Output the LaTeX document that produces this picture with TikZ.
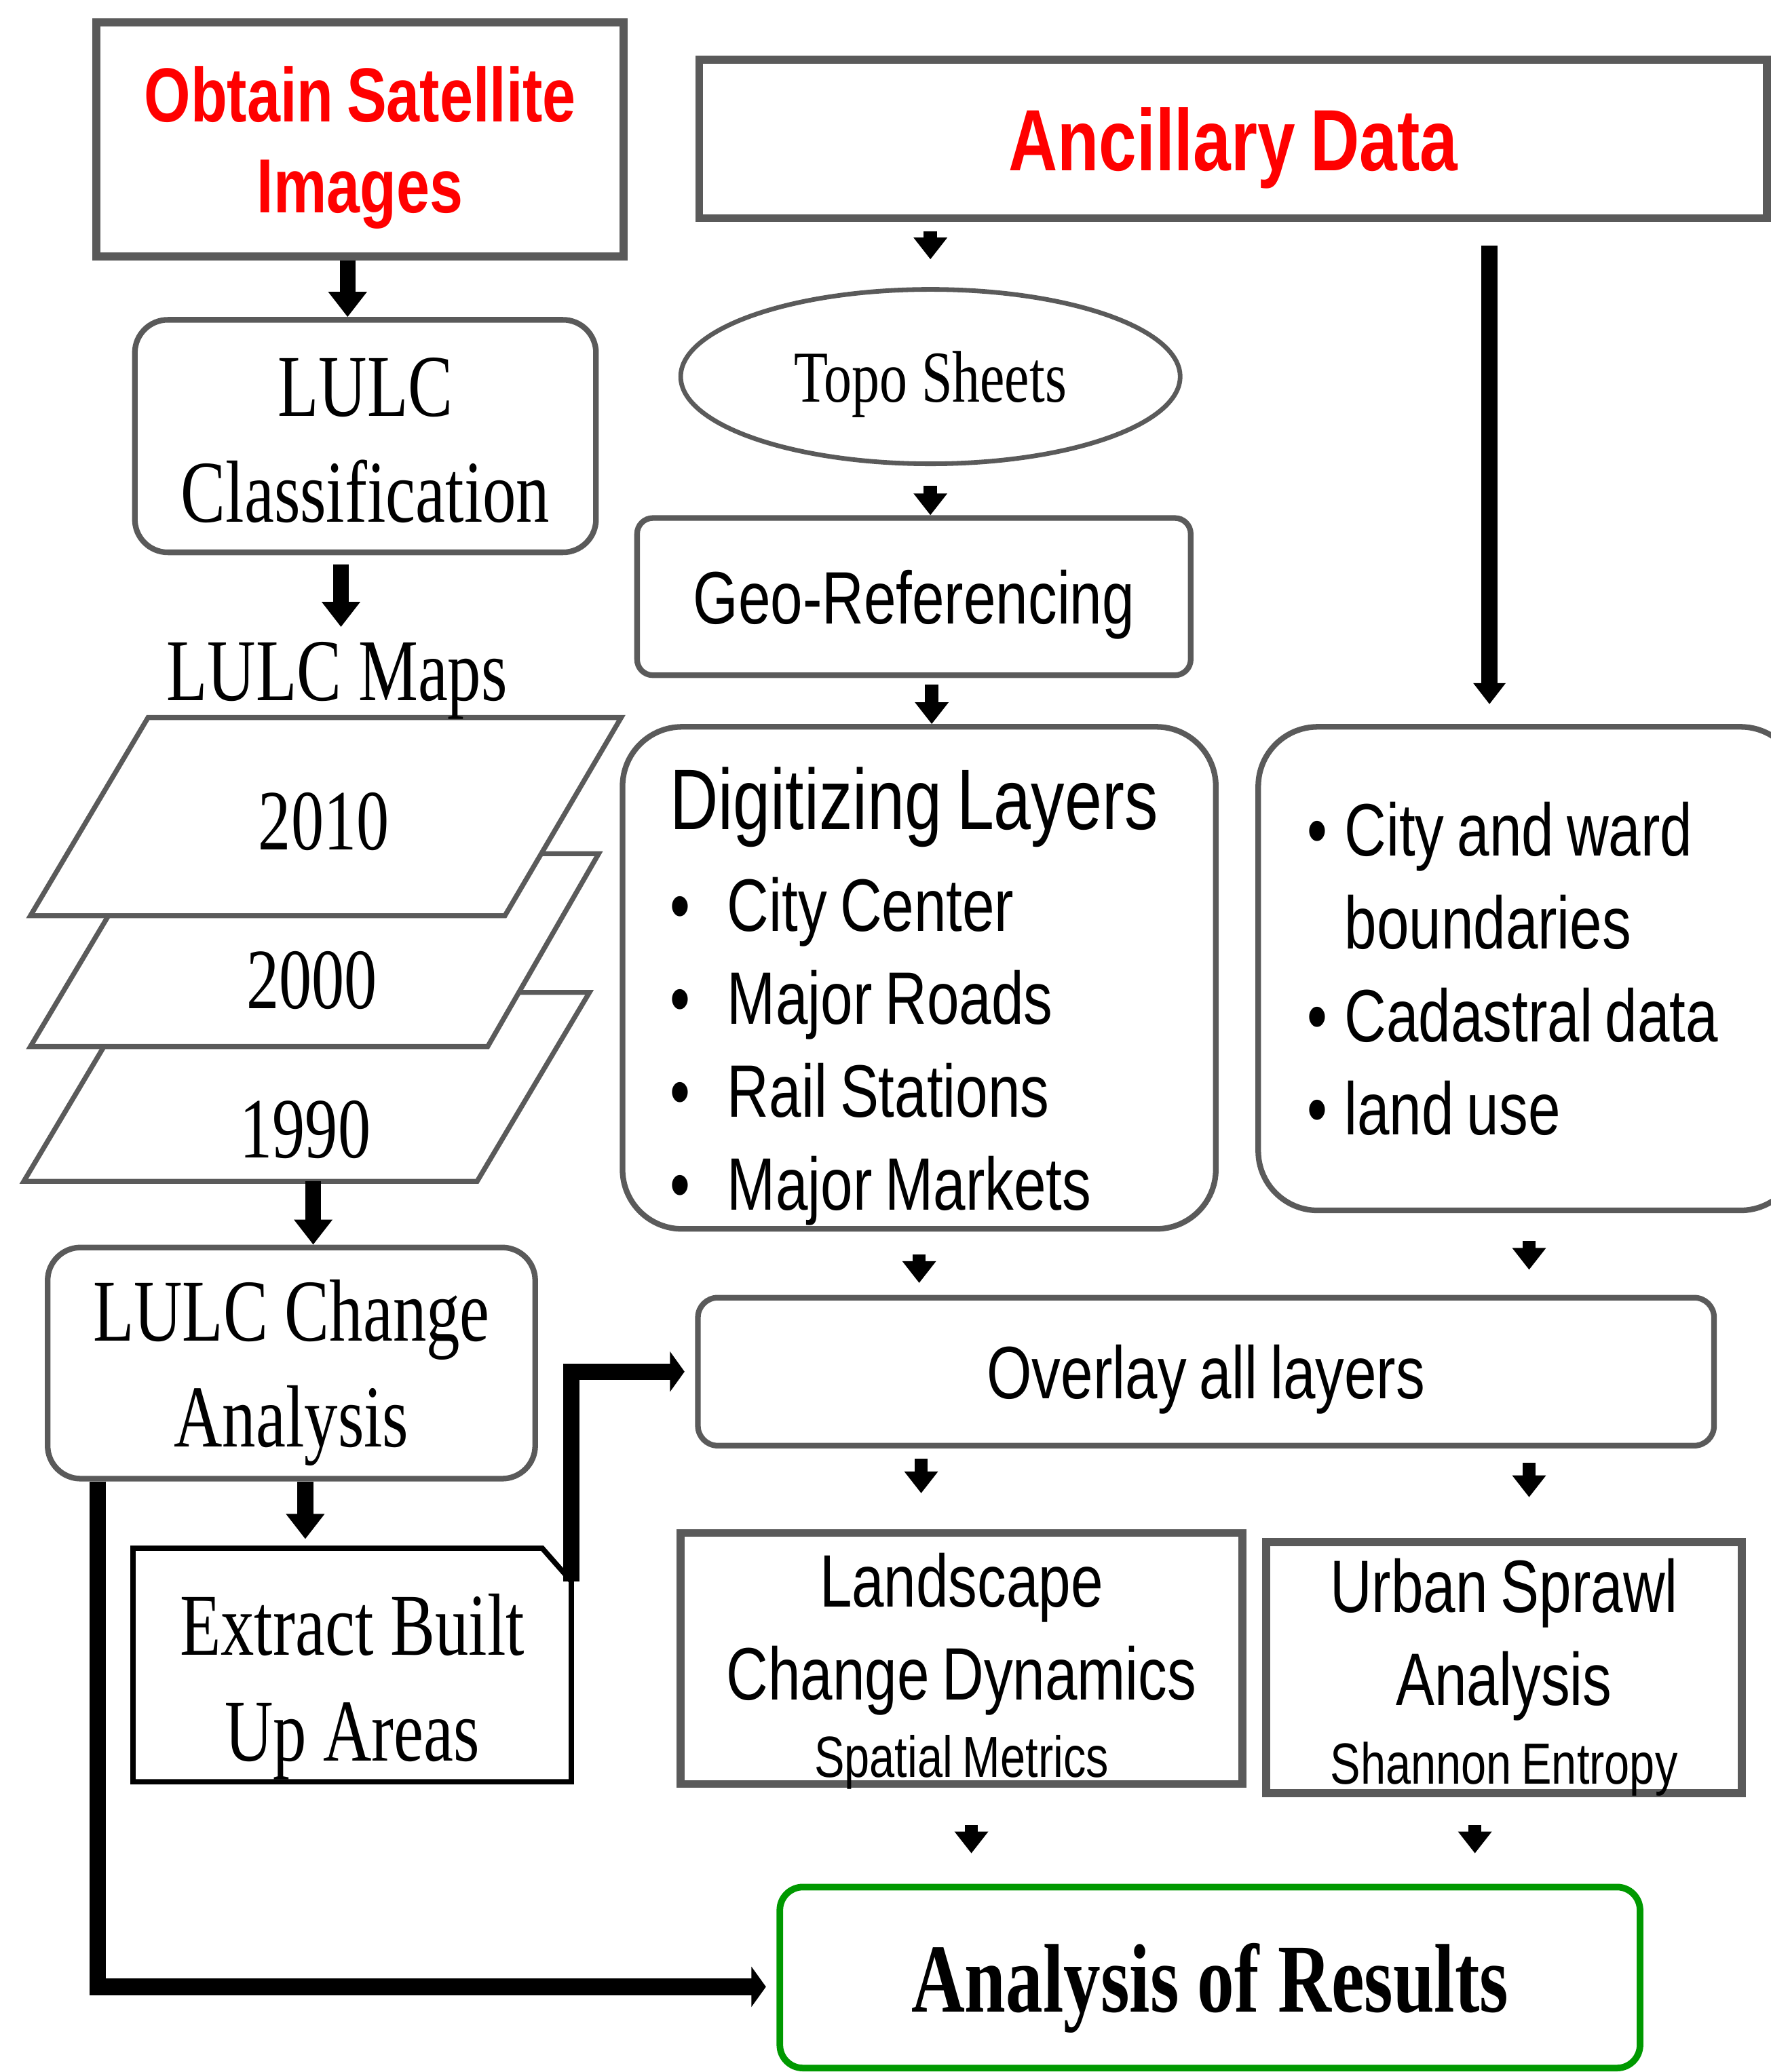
\documentclass[tikz,border=0pt]{standalone}
\usepackage{fontspec}
\setmainfont{Liberation Serif}[FakeStretch=0.76]
\newfontfamily\narrowsf{Liberation Sans}[FakeStretch=0.78, WordSpace=0.8]
\usetikzlibrary{arrows.meta, shapes.geometric, calc}

\definecolor{framegray}{RGB}{90,90,90}
\definecolor{resultgreen}{RGB}{0,153,0}

\tikzset{
  sqbox/.style={draw=framegray, line width=0.12cm, inner sep=0pt, align=center, text depth=0pt},
  rbox/.style={draw=framegray, line width=0.085cm, inner sep=0pt, align=center},
  seriftext/.style={font=\fontsize{38}{45.5}\selectfont},
  sanstext/.style={font=\narrowsf\fontsize{32}{40}\selectfont},
  layer/.style={draw=framegray, line width=0.075cm, fill=white},
  fat/.style={line width=0.24cm, -{Triangle[width=0.56cm, length=0.38cm]}},
  stub/.style={line width=0.2cm, -{Triangle[width=0.49cm, length=0.33cm]}},
  droparrow/.style={line width=0.24cm, -{Triangle[width=0.47cm, length=0.32cm]}},
  elbow/.style={line width=0.25cm, -{Triangle[width=0.6cm, length=0.22cm]}},
}

\begin{document}
\begin{tikzpicture}[x=0.02cm, y=-0.02cm]
\useasboundingbox (0,0) rectangle (1340,1568);

% satellite branch
\node[sqbox, minimum width=7.98cm, minimum height=3.54cm, text=red,
  font=\narrowsf\bfseries\fontsize{33}{39.3}\selectfont] (sat) at (272.5,105.5) {Obtain Satellite\\Images};
\node[rbox, rounded corners=0.5cm, seriftext, minimum width=6.98cm, minimum height=3.52cm] (cls) at (276.5,330) {\rule{0pt}{29pt}LULC\\Classification};

% map layers, back to front
\draw[layer] (18,894) -- (361,894) -- (446,751) -- (103,751) -- cycle;
\draw[layer] (23,792) -- (369,792) -- (453,646) -- (110,646) -- cycle;
\draw[layer] (23,693) -- (382,693) -- (470,543) -- (112,543) -- cycle;
\node[font=\fontsize{37}{40}\selectfont] (y1990) at (231,855) {1990};
\node[font=\fontsize{37}{40}\selectfont] (y2000) at (236,742) {2000};
\node[font=\fontsize{37}{40}\selectfont] (y2010) at (245,622) {2010};
\node[seriftext, inner sep=0pt, anchor=base] (maps) at (255,530) {LULC Maps};
\coordinate (layerfoot) at (237,894);

\node[rbox, rounded corners=0.5cm, seriftext, text depth=0pt, minimum width=7.38cm, minimum height=3.5cm] (chg) at (220.5,1031.5) {LULC Change\\Analysis};
\node[seriftext, inner sep=0pt, align=center, text depth=0pt, minimum width=6.62cm, minimum height=3.52cm] (ext) at (266.5,1260) {\rule{0pt}{37pt}Extract Built\\Up Areas};
\draw[line width=0.08cm] (ext.north west) -- ([xshift=-0.44cm]ext.north east) -- ([yshift=-0.5cm]ext.north east)
  -- (ext.south east) -- (ext.south west) -- cycle;

% ancillary branch
\node[sqbox, minimum width=16.16cm, minimum height=2.4cm, text=red,
  font=\narrowsf\bfseries\fontsize{37.5}{44}\selectfont] (anc) at (933,105) {Ancillary Data};
\node[ellipse, draw=framegray, line width=0.07cm, inner sep=0pt, text depth=0pt, minimum width=7.56cm, minimum height=2.64cm,
  font=\fontsize{31.5}{36}\selectfont] (topo) at (704,285) {Topo Sheets};
\node[rbox, rounded corners=0.24cm, sanstext, text depth=0pt, minimum width=8.38cm, minimum height=2.38cm] (geo) at (691.5,451.5) {Geo-Referencing};
\node[rbox, rounded corners=0.9cm, sanstext, align=flush left, inner xsep=0.72cm, text width=7.54cm,
  minimum width=8.98cm, minimum height=7.6cm] (dig) at (695.5,740)
  {{\fontsize{37}{44}\selectfont\rule{0pt}{1.5cm}Digitizing Layers}\\[4pt]
   \textbullet\hspace{0.56cm}City Center\\
   \textbullet\hspace{0.56cm}Major Roads\\
   \textbullet\hspace{0.56cm}Rail Stations\\
   \textbullet\hspace{0.56cm}Major Markets};
\node[rbox, rounded corners=0.9cm, sanstext, align=flush left, inner xsep=0.74cm, text width=6.72cm,
  minimum width=8.2cm, minimum height=7.32cm] (lyr) at (1157,733)
  {\textbullet\hspace{0.26cm}City and ward\\
   \phantom{\textbullet}\hspace{0.26cm}boundaries\\
   \textbullet\hspace{0.26cm}Cadastral data\\
   \textbullet\hspace{0.26cm}land use};

\node[rbox, rounded corners=0.3cm, sanstext, text depth=0pt, minimum width=15.38cm, minimum height=2.24cm] (ovl) at (912.5,1038) {Overlay all layers};
\node[sqbox, sanstext, minimum width=8.5cm, minimum height=3.8cm] (lcd) at (727.5,1255)
  {\rule{0pt}{29pt}Landscape\\Change Dynamics\\[-6.5pt]{\fontsize{25}{28}\selectfont Spatial Metrics}};
\node[sqbox, sanstext, minimum width=7.2cm, minimum height=3.8cm] (usa) at (1138,1262)
  {\rule{0pt}{26.5pt}Urban Sprawl\\Analysis\\[-6pt]{\fontsize{25}{28}\selectfont Shannon Entropy}};
\node[draw=resultgreen, line width=0.1cm, rounded corners=0.35cm, inner sep=0pt, text depth=0pt, minimum width=13.02cm, minimum height=2.74cm,
  font=\bfseries\fontsize{42}{48}\selectfont] (res) at (915.5,1496.5) {Analysis of Results};

% connectors, left column
\draw[fat] ($(sat.south)+(-9.5,0)$) coordinate (a1) -- (a1 |- cls.north);
\draw[fat, shorten >=0.22cm] ($(cls.south)+(-18.5,7)$) coordinate (a2) -- (a2 |- maps.north);
\draw[fat] (layerfoot) -- (layerfoot |- chg.north);
\draw[fat, shorten >=0.14cm] ($(chg.south)+(10.5,0)$) coordinate (a3) -- (a3 |- ext.north);
\draw[elbow, shorten >=0.16cm] ([yshift=-0.5cm]ext.north east) |- (ovl.west);
\draw[elbow, shorten >=0.16cm] ($(chg.south west)+(40,0)$) |- ([yshift=-0.14cm]res.west);

% connectors, right side
\draw[stub, shorten <=0.14cm, shorten >=0.42cm] (topo |- anc.south) -- (topo.north);
\draw[stub, shorten <=0.3cm] (topo.south) -- (topo.south |- geo.north);
\draw[stub] ($(dig.north)+(9.5,-30)$) coordinate (a4) -- (a4 |- dig.north);
\draw[droparrow, shorten >=0.3cm] ($(anc.south)+(194,18)$) coordinate (a5) -- (a5 |- lyr.north);
\draw[stub, shorten >=0.18cm] ($(dig.south)+(0,17)$) coordinate (a6) -- (a6 |- ovl.north);
\draw[stub, shorten >=0.38cm] ($(lyr.south)+(0,21)$) coordinate (a7) -- (a7 |- ovl.north);
\draw[stub, shorten >=0.54cm] ($(lcd.north)+(-30.5,-53)$) coordinate (a8) -- (a8 |- lcd.north);
\draw[stub, shorten >=0.62cm] ($(usa.north)+(19,-57)$) coordinate (a9) -- (a9 |- usa.north);
\draw[stub, shorten >=0.46cm] ($(lcd.south)+(7.5,28)$) coordinate (a10) -- (a10 |- res.north);
\draw[stub, shorten >=0.46cm] ($(usa.south)+(-22,21)$) coordinate (a11) -- (a11 |- res.north);
\end{tikzpicture}
\end{document}
